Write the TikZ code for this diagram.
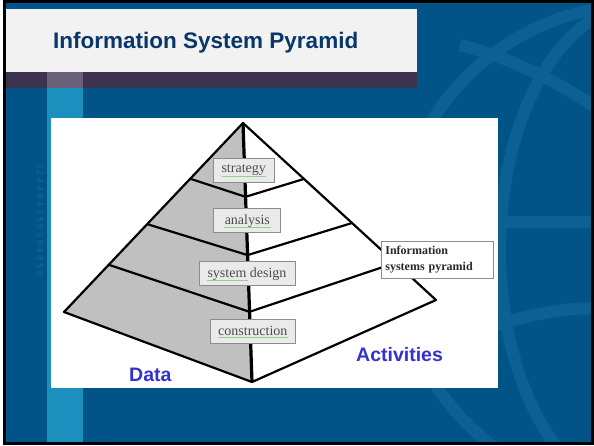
\documentclass[tikz,border=0pt]{standalone}
\usepackage{fontspec}
\setmainfont{Liberation Serif}
\newfontfamily\sansf{Liberation Sans}
\usetikzlibrary{calc}
\definecolor{bgblue}{RGB}{2,84,136}
\definecolor{stripeblue}{RGB}{27,143,190}
\definecolor{bandpurple}{RGB}{60,50,78}
\definecolor{bandstripe}{RGB}{104,96,120}
\definecolor{titlebg}{RGB}{242,242,242}
\definecolor{titlefg}{RGB}{10,55,105}
\definecolor{globec}{RGB}{12,96,148}
\definecolor{digitc}{RGB}{24,104,154}
\definecolor{lblblue}{RGB}{51,51,204}
\definecolor{pyrgray}{RGB}{192,192,192}
\definecolor{boxfill}{RGB}{234,234,234}
\definecolor{boxdraw}{RGB}{140,140,140}
\definecolor{boxtext}{RGB}{75,75,75}
\definecolor{infotext}{RGB}{40,40,40}
\definecolor{squigc}{RGB}{150,205,150}
\begin{document}
\begin{tikzpicture}[x=1pt,y=-1pt,
  globe/.style={draw=globec,line width=12pt},
  edge/.style={draw=black,line width=2.2pt,line join=round},
  spine/.style={draw=black,line width=3.2pt},
  lbl/.style={draw=boxdraw,fill=boxfill,line width=0.8pt,text=boxtext,
    font=\fontsize{14}{16}\selectfont,inner sep=0pt,minimum height=24pt},
  squig/.style={draw=squigc,line width=0.6pt},
  bigword/.style={font=\sansf\bfseries\fontsize{19.5}{23}\selectfont,text=lblblue,inner sep=0pt,anchor=base west}]
\useasboundingbox (0,0) rectangle (594,445);
\fill[white] (0,0) rectangle (594,445);
\fill[bgblue] (3,0) rectangle (594,445);
% globe
\begin{scope}
  \clip (5,2) rectangle (592,443);
  \draw[globe] (640,250) circle [radius=245pt];
  \draw[globe] (640,250) ellipse [x radius=140pt, y radius=245pt];
  \draw[globe] (400,222) -- (600,222);
  \draw[globe] (470,335) .. controls (520,315) and (560,308) .. (600,308);
  \draw[globe] (460,45) .. controls (520,60) and (570,90) .. (600,110);
\end{scope}
% stripe and title bar
\fill[stripeblue] (47,88) rectangle (83,443);
\fill[titlebg] (6,9) rectangle (417,72);
\fill[bandpurple] (6,72) rectangle (417,88);
\fill[bandstripe] (47,72) rectangle (83,88);
\draw[black,line width=3pt] (4.5,1.5) rectangle (592.5,443.5);
\node[anchor=base west,font=\sansf\bfseries\fontsize{22.5}{27}\selectfont,text=titlefg,inner sep=0pt] (title) at (53,48) {Information System Pyramid};
% faint digits
\foreach \d [count=\i] in {3,2,4,4,6,4,2,5,5,3,0,4,3,5,6}
  \node[rotate=-90,font=\sansf\fontsize{9}{9}\selectfont,text=digitc,inner sep=0pt] (dg\i) at (40,158+7.7*\i) {\d};
% panel
\fill[white] (51,118) rectangle (498,388);
% pyramid
\coordinate (A) at (243,123);
\coordinate (L) at (64,312);
\coordinate (B) at (252,382);
\coordinate (R) at (436,300);
\fill[pyrgray] (A) -- (L) -- (B) -- cycle;
\draw[edge] (A) -- (L) -- (B) -- (R) -- cycle;
\coordinate (l1) at ($(A)!0.295!(L)$);
\coordinate (s1) at ($(A)!0.285!(B)$);
\coordinate (r1) at ($(A)!0.316!(R)$);
\coordinate (l2) at ($(A)!0.535!(L)$);
\coordinate (s2) at ($(A)!0.51!(B)$);
\coordinate (r2) at ($(A)!0.565!(R)$);
\coordinate (l3) at ($(A)!0.75!(L)$);
\coordinate (s3) at ($(A)!0.729!(B)$);
\coordinate (r3) at ($(A)!0.79!(R)$);
\draw[edge] (l1) -- (s1) -- (r1);
\draw[edge] (l2) -- (s2) -- (r2);
\draw[edge] (l3) -- (s3) -- (r3);
\draw[spine] (A) -- (B);
% labels
\node[lbl,minimum width=61pt] (strat) at (243.7,170.5) {strategy};
\node[lbl,minimum width=67pt] (anal) at (247.3,220.8) {analysis};
\node[lbl,minimum width=96pt] (sysd) at (247,273.7) {system design};
\node[lbl,minimum width=85pt] (cons) at (252.8,331.3) {construction};
\draw[squig] ($(strat.center)+(-22,6.2)$) -- ($(strat.center)+(22,6.2)$);
\draw[squig] ($(anal.center)+(-23.5,6.2)$) -- ($(anal.center)+(23.5,6.2)$);
\draw[squig] ($(sysd.center)+(-40,6.2)$) -- ($(sysd.center)+(1,6.2)$);
\draw[squig] ($(cons.center)+(-35,6.2)$) -- ($(cons.center)+(35,6.2)$);
\node[draw=boxdraw,fill=white,line width=0.8pt,anchor=north west,minimum width=112.6pt,minimum height=37.3pt,
  text width=104pt,align=left,inner xsep=3.5pt,inner ysep=0pt,text=infotext,
  font=\bfseries\fontsize{12}{16}\selectfont] (info) at (380.7,241) {Information\\systems pyramid};
\node[bigword] (data) at (129,381) {Data};
\node[bigword] (act) at (356,361) {Activities};
\end{tikzpicture}
\end{document}
